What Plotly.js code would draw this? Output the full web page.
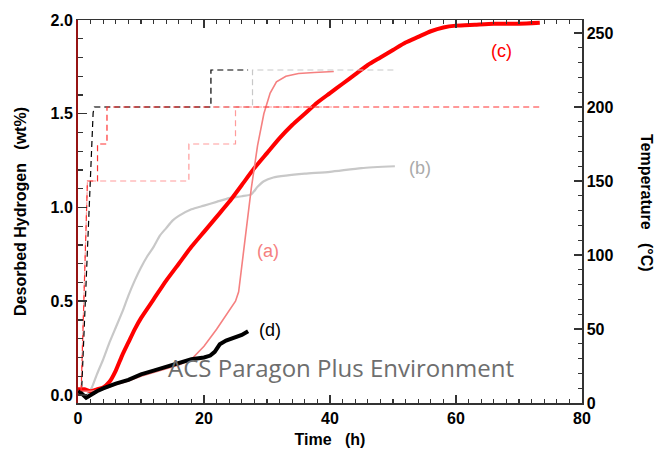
<!DOCTYPE html>
<html>
<head>
<meta charset="utf-8">
<script src="https://cdn.plot.ly/plotly-3.0.1.min.js"></script>
<style>html,body{margin:0;padding:0;background:#fff;}#chart{width:660px;height:454px;}</style>
</head>
<body>
<div id="chart"></div>
<script>
// ---- Hydrogen desorption curves (wt%) vs time (h) ----
const timeA = [0, 2, 4, 6, 8, 10, 12, 14, 16, 18, 20, 22, 24, 25, 25.5, 26.5, 27.5, 28.5, 29.5, 30.5, 31.5, 33, 35, 37.5, 40.6];
const wtA   = [0.02, 0.02, 0.03, 0.055, 0.075, 0.10, 0.12, 0.14, 0.16, 0.19, 0.26, 0.35, 0.45, 0.50, 0.55, 0.82, 1.10, 1.33, 1.50, 1.61, 1.67, 1.70, 1.715, 1.72, 1.725];

const timeB = [1.5, 2.2, 3, 4, 5, 6, 7, 8, 9, 10, 11, 12, 13, 14, 15, 16, 18, 20, 22, 24, 26, 27.5, 28.5, 29.5, 31, 33, 36, 40, 45, 50.3];
const wtB   = [0.00, 0.04, 0.11, 0.19, 0.28, 0.36, 0.44, 0.53, 0.61, 0.68, 0.74, 0.79, 0.85, 0.89, 0.93, 0.955, 0.99, 1.01, 1.03, 1.05, 1.06, 1.07, 1.11, 1.14, 1.16, 1.17, 1.18, 1.19, 1.21, 1.22];

const timeC = [0, 1, 2, 3, 4, 5, 6, 7, 8, 9, 10, 12, 14, 16, 18, 20, 22, 24, 26, 28, 30, 32, 34, 36, 38, 40, 42, 44, 46, 48, 50, 52, 54, 56, 58, 60, 63, 66, 70, 73.3];
const wtC   = [0.03, 0.03, 0.02, 0.03, 0.04, 0.07, 0.13, 0.21, 0.28, 0.35, 0.41, 0.51, 0.61, 0.70, 0.79, 0.87, 0.95, 1.03, 1.12, 1.21, 1.29, 1.37, 1.44, 1.50, 1.56, 1.61, 1.66, 1.71, 1.76, 1.80, 1.84, 1.88, 1.91, 1.94, 1.96, 1.97, 1.975, 1.98, 1.98, 1.985];

const timeD = [0, 0.5, 1.3, 2, 3, 4, 5, 6, 8, 10, 12, 14, 16, 18, 20, 21, 21.7, 22.5, 23.5, 25, 26, 27];
const wtD   = [0.02, 0.01, -0.015, 0.00, 0.02, 0.035, 0.05, 0.06, 0.08, 0.11, 0.13, 0.15, 0.17, 0.19, 0.20, 0.21, 0.23, 0.27, 0.29, 0.31, 0.32, 0.34];

// ---- Temperature programs (°C) vs time (h) ----
const tTimeA = [0.5, 1.5, 17.6, 17.6, 25.0, 25.0, 40.6];
const tempA  = [10, 150, 150, 175, 175, 200, 200];

const tTimeB = [2.6, 27.7, 27.7, 50.6];
const tempB  = [200, 200, 225, 225];

const tTimeC = [0.5, 1.5, 3.1, 3.1, 4.6, 4.6, 73.5];
const tempC  = [8, 150, 150, 175, 175, 200, 200];

const tTimeD = [0.6, 1.1, 2.4, 2.6, 21.1, 21.1, 27.0];
const tempD  = [11, 60, 196, 200, 200, 225, 225];

// ---- Labels ----
const curveLabels = ['(a)', '(b)', '(c)', '(d)'];
const labelTime   = [30.2, 54.3, 67.3, 30.5];
const labelWt     = [0.77, 1.21, 1.835, 0.347];

const cPinkSolid = 'rgb(245,128,128)';
const cPinkDash  = 'rgb(255,155,155)';
const cRed       = 'rgb(255,0,0)';
const cRedDash   = 'rgb(255,50,50)';
const cGray      = 'rgb(200,200,200)';
const cBlack     = 'rgb(0,0,0)';
const labelColors = ['rgb(245,128,128)', 'rgb(170,170,170)', 'rgb(255,0,0)', 'rgb(0,0,0)'];

const dashPat = '6px,4px';
function tline(x, y, color) {
  return {x: x, y: y, yaxis: 'y2', type: 'scatter', mode: 'lines',
          line: {color: color, width: 1.2, dash: dashPat}, hoverinfo: 'skip'};
}

const traces = [
  tline(tTimeB, tempB, cGray),
  tline(tTimeA, tempA, cPinkDash),
  tline(tTimeD, tempD, cBlack),
  tline(tTimeC, tempC, cRedDash),
  {x: timeB, y: wtB, type: 'scatter', mode: 'lines', line: {color: cGray, width: 2.2, shape: 'spline', smoothing: 0.6}},
  {x: timeC, y: wtC, type: 'scatter', mode: 'lines', line: {color: cRed, width: 4, shape: 'spline', smoothing: 0.6}},
  {x: timeA, y: wtA, type: 'scatter', mode: 'lines', line: {color: cPinkSolid, width: 1.6}},
  {x: timeD, y: wtD, type: 'scatter', mode: 'lines', line: {color: cBlack, width: 4}}
];

const tickFont = {family: 'Liberation Sans, Arial, sans-serif', size: 16, color: '#000', weight: 'bold'};
const titleFont = {family: 'Liberation Sans, Arial, sans-serif', size: 16, color: '#000', weight: 'bold'};

const annotations = curveLabels.map((t, i) => ({
  x: labelTime[i], y: labelWt[i], xref: 'x', yref: 'y', text: t, showarrow: false,
  font: {family: 'Liberation Sans, Arial, sans-serif', size: 18, color: labelColors[i]}
}));
annotations.push({
  x: 41.7, y: 0.144, xref: 'x', yref: 'y', text: 'ACS Paragon Plus Environment', showarrow: false,
  font: {family: 'Open Sans, sans-serif', size: 24, color: 'rgb(110,110,110)'}
});
annotations.push({
  x: 1.15, y: 0.522, xref: 'paper', yref: 'paper', text: 'Temperature\u00a0\u00a0\u00a0(°C)',
  showarrow: false, textangle: 90, font: titleFont
});

const layout = {
  width: 660, height: 454,
  margin: {l: 78, r: 78, t: 20, b: 51},
  paper_bgcolor: '#fff', plot_bgcolor: '#fff',
  showlegend: false,
  xaxis: {
    range: [0, 80], dtick: 20, tick0: 0, ticks: 'inside', ticklen: 8, tickwidth: 1.5, tickcolor: '#333',
    minor: {dtick: 2, ticks: 'inside', ticklen: 4, tickcolor: '#333', tickwidth: 1.2},
    showline: true, linecolor: '#333', linewidth: 1.5, mirror: 'ticks',
    showgrid: false, zeroline: false, tickfont: tickFont,
    title: {text: 'Time\u00a0\u00a0\u00a0(h)', font: titleFont, standoff: 8}
  },
  yaxis: {
    range: [-0.043, 2.0], dtick: 0.5, tick0: 0, tickformat: '.1f',
    ticks: 'inside', ticklen: 9, tickwidth: 1.5, tickcolor: '#333',
    minor: {dtick: 0.1, ticks: 'inside', ticklen: 5, tickcolor: '#333', tickwidth: 1.2},
    showline: true, linecolor: 'rgb(150,20,20)', linewidth: 2, mirror: false,
    showgrid: false, zeroline: false, tickfont: tickFont,
    title: {text: 'Desorbed Hydrogen\u00a0\u00a0\u00a0(wt%)', font: titleFont, standoff: 20}
  },
  yaxis2: {
    overlaying: 'y', side: 'right', range: [0, 258.8], dtick: 50, tick0: 0,
    ticks: 'inside', ticklen: 8, tickwidth: 1.5, tickcolor: '#333',
    minor: {dtick: 10, ticks: 'inside', ticklen: 4, tickcolor: '#333', tickwidth: 1.2},
    showline: true, linecolor: '#333', linewidth: 1.5,
    showgrid: false, zeroline: false, tickfont: tickFont
  },
  annotations: annotations
};

Plotly.newPlot('chart', traces, layout, {displayModeBar: false, staticPlot: true});
</script>
</body>
</html>
